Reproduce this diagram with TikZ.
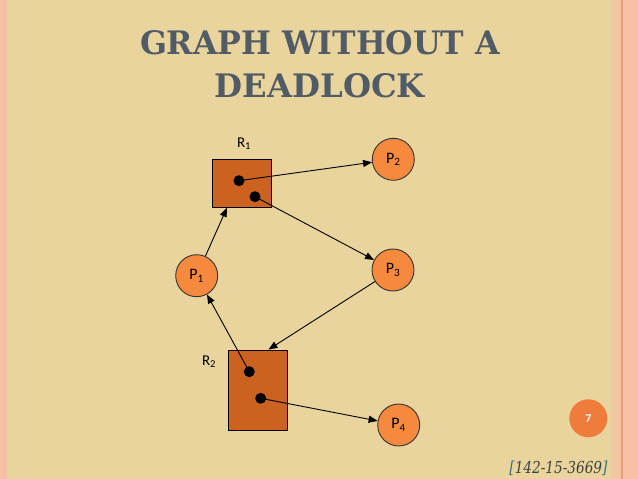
\documentclass[tikz,border=0pt]{standalone}
\usepackage{fontspec}
\setmainfont{DejaVu Serif}
\newfontfamily\lblfont{Carlito}
\usetikzlibrary{arrows.meta,calc}
\definecolor{parch}{HTML}{E8D49C}
\definecolor{pinkband}{HTML}{F7C0A4}
\definecolor{pinkline}{HTML}{EE9C7C}
\definecolor{titlegray}{HTML}{515B66}
\definecolor{procfill}{HTML}{F58A3F}
\definecolor{resfill}{HTML}{CB6220}
\definecolor{numfill}{HTML}{F07C3C}
\definecolor{brackblue}{HTML}{2F6F8F}
\tikzset{
  proc/.style={circle,draw=black!80,line width=0.9pt,fill=procfill,minimum size=42pt,inner sep=0pt,font=\lblfont\fontsize{16}{16}\selectfont},
  res/.style={rectangle,draw=black,line width=0.9pt,fill=resfill,inner sep=0pt},
  inst/.style={circle,fill=black,minimum size=11pt,inner sep=0pt},
  lbl/.style={font=\lblfont\fontsize{15}{15}\selectfont},
  edge/.style={line width=0.9pt,-{Triangle[length=9pt,width=7pt]}}
}
\begin{document}
\begin{tikzpicture}[x=1pt,y=-1pt]
\useasboundingbox (0,0) rectangle (638,479);
% background
\fill[pinkband] (0,0) rectangle (638,479);
\fill[parch] (7,0) rectangle (614,479);
\fill[pinkband!60!parch] (611,0) rectangle (620,479);
\draw[pinkline,line width=1.2pt] (622,0) -- (622,479);
% title
\node[anchor=base,text=titlegray,font=\bfseries] (t1) at (320,54) {\resizebox{360pt}{24pt}{GRAPH WITHOUT A}};
\node[anchor=base,text=titlegray,font=\bfseries] (t2) at (320,97) {\resizebox{210pt}{24pt}{DEADLOCK}};
% resources
\node[res,minimum width=59pt,minimum height=48pt] (R1) at (241.8,183.3) {};
\node[res,minimum width=59.4pt,minimum height=80.3pt] (R2) at (258,390.2) {};
\node[inst] (R1a) at (239,180.7) {};
\node[inst] (R1b) at (255,196.7) {};
\node[inst] (R2a) at (249.3,371.7) {};
\node[inst] (R2b) at (260.7,398.3) {};
\node[lbl] (R1l) at (244,144) {R\textsubscript{1}};
\node[lbl] (R2l) at (209,362) {R\textsubscript{2}};
% processes
\node[proc] (P1) at (196.7,275.7) {P\textsubscript{1}};
\node[proc] (P2) at (393.3,159.3) {P\textsubscript{2}};
\node[proc] (P3) at (393,270) {P\textsubscript{3}};
\node[proc] (P4) at (398.7,425) {P\textsubscript{4}};
% edges
\draw[edge] (R1a.center) -- (P2);
\draw[edge] (R1b.center) -- (P3);
\draw[edge] (P1) -- (intersection of P1--R1a and R1.south west--R1.south east);
\draw[edge] (P3) -- ($(R2.north west)!0.673!(R2.north east)$);
\draw[edge] (R2a.center) -- (P1);
\draw[edge] (R2b.center) -- (P4);
% slide number and footer
\node[circle,fill=numfill,minimum size=38pt,inner sep=0pt,text=white,font=\lblfont\bfseries\fontsize{12}{12}\selectfont] (num) at (588.3,418.3) {7};
\node[anchor=base east,font=\itshape,text=black!75] (foot) at (611,473) {\resizebox{98pt}{12.5pt}{\textcolor{brackblue}{[}142-15-3669\textcolor{brackblue}{]}}};
\end{tikzpicture}
\end{document}
